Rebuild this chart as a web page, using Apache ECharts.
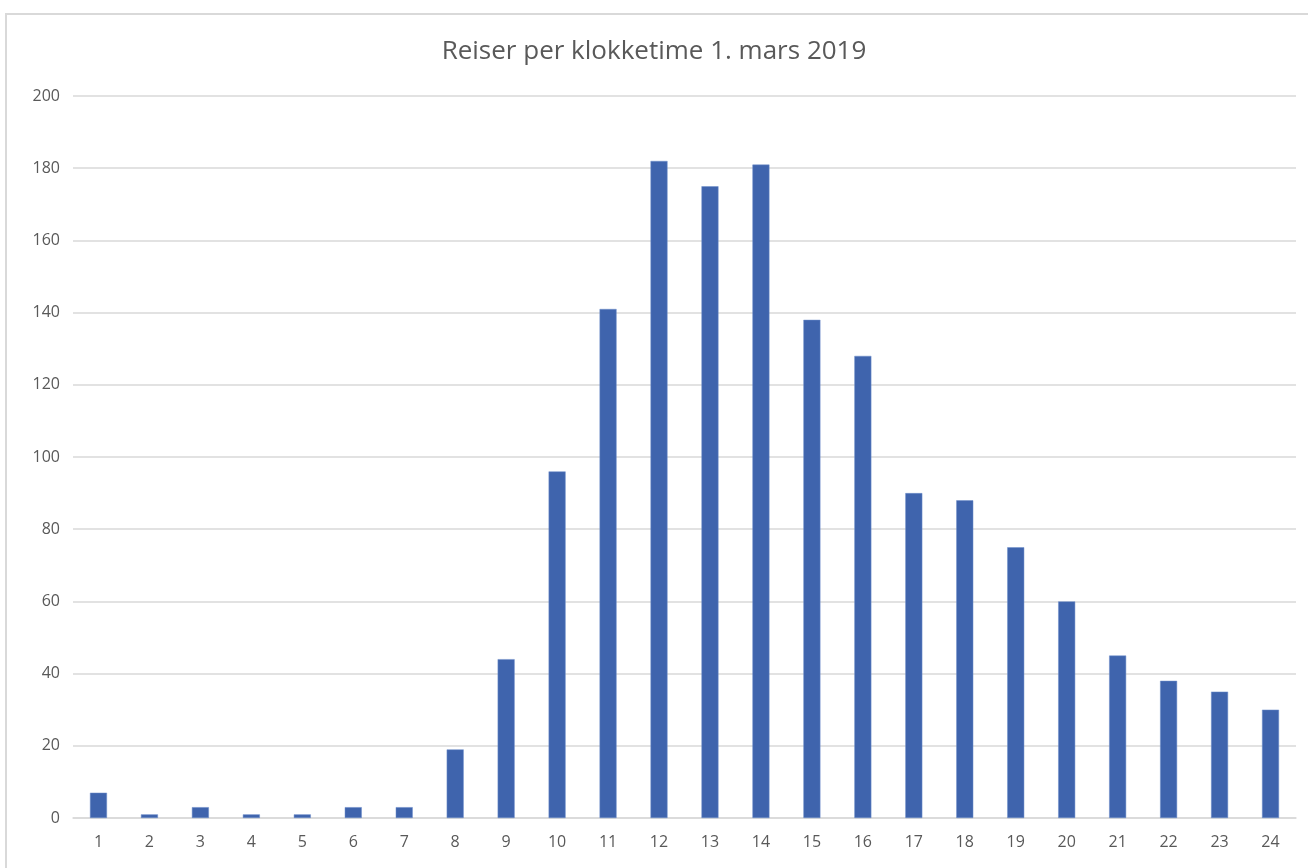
<!DOCTYPE html>
<html>
<head>
<meta charset="utf-8">
<script src="https://cdn.jsdelivr.net/npm/echarts@6/dist/echarts.min.js"></script>
<style>
html,body{margin:0;padding:0;background:#fff;}
#frame{position:absolute;left:5px;top:13px;width:1320px;height:880px;border:2px solid #D9D9D9;box-sizing:border-box;}
#chart{position:absolute;left:0;top:0;width:1308px;height:868px;}
</style>
</head>
<body>
<div id="frame"></div>
<div id="chart"></div>
<script>
const titleText = 'Reiser per klokketime 1. mars 2019';
const hours = ['1','2','3','4','5','6','7','8','9','10','11','12','13','14','15','16','17','18','19','20','21','22','23','24'];
const trips = [7,1,3,1,1,3,3,19,44,96,141,182,175,181,138,128,90,88,75,60,45,38,35,30];

const chart = echarts.init(document.getElementById('chart'));
chart.setOption({
  animation: false,
  title: {
    text: titleText,
    left: 'center',
    top: 34,
    textStyle: {fontFamily: 'Open Sans', fontSize: 26, fontWeight: 'normal', color: '#595959'}
  },
  grid: {left: 73, right: 12, top: 96, bottom: 50, containLabel: false},
  xAxis: {
    type: 'category',
    data: hours,
    axisLine: {lineStyle: {color: '#D9D9D9', width: 1.5}},
    axisTick: {show: false},
    axisLabel: {color: '#595959', fontFamily: 'Open Sans', fontSize: 16, margin: 16}
  },
  yAxis: {
    type: 'value',
    min: 0, max: 200, interval: 20,
    axisLine: {show: false},
    axisTick: {show: false},
    axisLabel: {color: '#595959', fontFamily: 'Open Sans', fontSize: 16, margin: 13},
    splitLine: {lineStyle: {color: '#D9D9D9', width: 1.5}}
  },
  series: [{
    type: 'bar',
    data: trips,
    barWidth: 17,
    itemStyle: {color: '#3F64AD', borderColor: '#6F8FCB', borderWidth: 0.5}
  }]
});
</script>
</body>
</html>
